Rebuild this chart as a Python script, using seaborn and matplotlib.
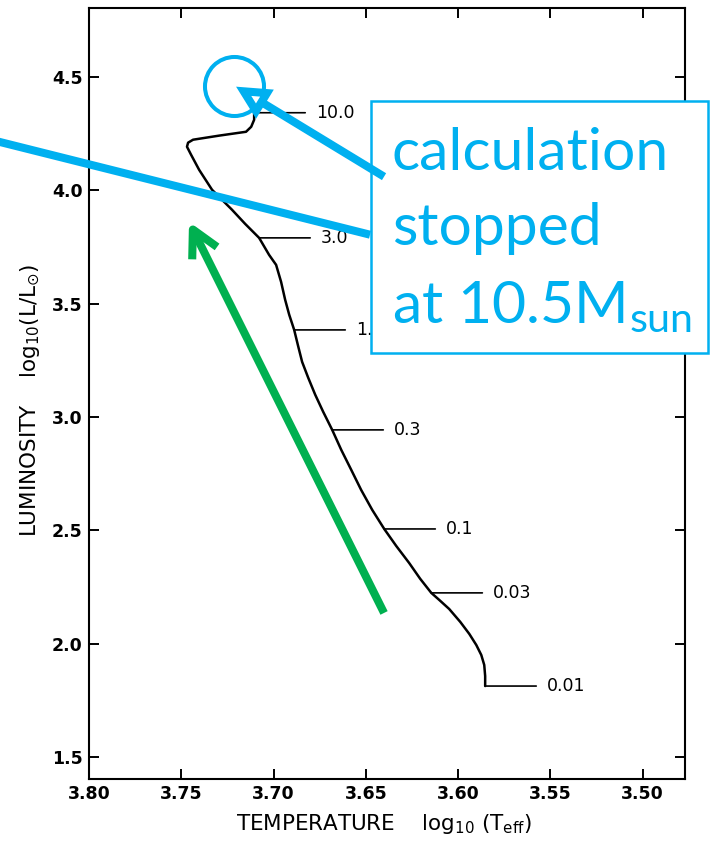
import numpy as np
import pandas as pd
import matplotlib
matplotlib.use("Agg")
import matplotlib.pyplot as plt
import seaborn as sns
from matplotlib.patches import Rectangle, FancyArrowPatch

# Evolutionary track: log10 effective temperature vs log10 luminosity
log_teff = [3.5853, 3.5853, 3.5858, 3.5874, 3.5901, 3.5939, 3.5988, 3.6048,
            3.6102, 3.6145, 3.6205, 3.6265, 3.6335, 3.6400, 3.6465, 3.6525,
            3.6579, 3.6633, 3.6682, 3.6731, 3.6774, 3.6812, 3.6845, 3.6867,
            3.6888, 3.6915, 3.6937, 3.6959, 3.6986, 3.7024, 3.7078, 3.7154,
            3.7225, 3.7333, 3.7403, 3.7447, 3.7469, 3.7463, 3.7436, 3.7295,
            3.7149, 3.7121, 3.7105, 3.7105]
log_lum = [1.813, 1.857, 1.906, 1.950, 1.994, 2.043, 2.096, 2.153,
           2.193, 2.224, 2.286, 2.356, 2.431, 2.506, 2.590, 2.678,
           2.767, 2.855, 2.943, 3.023, 3.098, 3.173, 3.243, 3.314,
           3.384, 3.451, 3.517, 3.596, 3.671, 3.715, 3.790, 3.852,
           3.914, 4.002, 4.090, 4.157, 4.192, 4.210, 4.223, 4.241,
           4.258, 4.280, 4.311, 4.342]

# Labelled points along the track
mark_labels = ["0.01", "0.03", "0.1", "0.3", "1.0", "3.0", "10.0"]
mark_teff = [3.5853, 3.6145, 3.6400, 3.6682, 3.6888, 3.7078, 3.7105]
mark_lum = [1.813, 2.224, 2.506, 2.943, 3.384, 3.790, 4.342]

x_ticks = [3.80, 3.75, 3.70, 3.65, 3.60, 3.55, 3.50]
x_tick_labels = ["3.80", "3.75", "3.70", "3.65", "3.60", "3.55", "3.50"]
y_ticks = [1.5, 2.0, 2.5, 3.0, 3.5, 4.0, 4.5]
y_tick_labels = ["1.5", "2.0", "2.5", "3.0", "3.5", "4.0", "4.5"]

# Callout annotations (data coordinates)
stop_point = (3.7214, 4.461)
stop_arrow_tail = (3.6401, 4.060)
stop_arrow_tip = (3.7203, 4.457)
pointer_line = [(3.8488, 4.214), (3.6477, 3.804)]
green_tail = (3.6401, 2.1355)
green_tip = (3.7458, 3.861)

BLUE = "#00B0F0"
GREEN = "#00B050"

sns.set_style("ticks")
plt.rcParams["font.family"] = ["DejaVu Sans"]
plt.rcParams["mathtext.fontset"] = "dejavusans"
plt.rcParams["text.color"] = "black"
plt.rcParams["xtick.color"] = "black"
plt.rcParams["ytick.color"] = "black"

fig = plt.figure(figsize=(7.11, 8.41), dpi=100)
W, H = 711, 841
ax = fig.add_axes([89 / W, 1 - 779 / H, (685 - 89) / W, (779 - 8) / H])

track = pd.DataFrame({"log_teff": log_teff, "log_lum": log_lum})
sns.lineplot(data=track, x="log_teff", y="log_lum", sort=False, estimator=None,
             color="black", linewidth=1.8, ax=ax)

ax.set_xlim(3.80, 3.477)
ax.set_ylim(1.403, 4.804)
ax.set_xticks(x_ticks)
ax.set_xticklabels(x_tick_labels)
ax.set_yticks(y_ticks)
ax.set_yticklabels(y_tick_labels)
ax.set_xlabel("")
ax.set_ylabel("")
ax.tick_params(direction="in", length=7.2, width=1.4, top=True, right=True,
               labelsize=12.5, pad=4.5, colors="black")
for lab in ax.get_xticklabels() + ax.get_yticklabels():
    lab.set_fontweight("bold")
for sp in ax.spines.values():
    sp.set_visible(True)
    sp.set_linewidth(1.5)
    sp.set_color("black")

# Leader lines and labels along the track
for lab, x, y in zip(mark_labels, mark_teff, mark_lum):
    ax.annotate(lab, xy=(x, y), xytext=(62, 0), textcoords="offset pixels",
                ha="left", va="center", fontsize=12.5, color="black",
                arrowprops=dict(arrowstyle="-", lw=1.2, color="black",
                                shrinkA=5.5, shrinkB=0))

# Axis titles
fig.text(383.5 / W, 1 - 830 / H,
         r"TEMPERATURE    log$_{\mathregular{10}}$ (T$_{\mathregular{eff}}$)",
         ha="center", va="baseline", fontsize=15.5, color="black")
fig.text(30 / W, 1 - 400 / H,
         r"LUMINOSITY    log$_{\mathregular{10}}$(L/L$_{\odot}$)",
         ha="center", va="center", rotation=90, fontsize=15.5, color="black")

# Callouts
ax.plot([stop_point[0]], [stop_point[1]], marker="o", markersize=42.5,
        markerfacecolor="none", markeredgecolor=BLUE, markeredgewidth=2.9,
        zorder=8, clip_on=False)
ax.plot([p[0] for p in pointer_line], [p[1] for p in pointer_line],
        color=BLUE, lw=5.8, solid_capstyle="butt", zorder=8, clip_on=False)

box = Rectangle((371 / W, 1 - 353 / H), (708 - 371) / W, (353 - 101) / H,
                transform=fig.transFigure, facecolor="white", edgecolor=BLUE,
                lw=1.8, zorder=10, clip_on=False)
ax.add_patch(box)

for txt, base in [("calculation", 170), ("stopped", 245),
                  (r"at 10.5M$_{\mathregular{sun}}$", 323)]:
    ax.text(392 / W, 1 - base / H, txt, transform=fig.transFigure,
            ha="left", va="baseline", fontsize=42.4, color=BLUE,
            family="Lato", zorder=11, clip_on=False)

blue_arrow = FancyArrowPatch(stop_arrow_tail, stop_arrow_tip,
                             arrowstyle="-|>,head_length=0.75,head_width=0.38",
                             mutation_scale=20, lw=5.8, edgecolor=BLUE,
                             facecolor="white", shrinkA=0, shrinkB=0,
                             joinstyle="miter", capstyle="butt",
                             zorder=12, clip_on=False)
ax.add_patch(blue_arrow)

green_arrow = FancyArrowPatch(green_tail, green_tip,
                              arrowstyle="->,head_length=0.95,head_width=0.5",
                              mutation_scale=20, lw=5.8, color=GREEN,
                              shrinkA=0, shrinkB=0, joinstyle="round",
                              capstyle="butt", zorder=9, clip_on=False)
ax.add_patch(green_arrow)

fig.savefig("out.png", dpi=100, facecolor="white")
